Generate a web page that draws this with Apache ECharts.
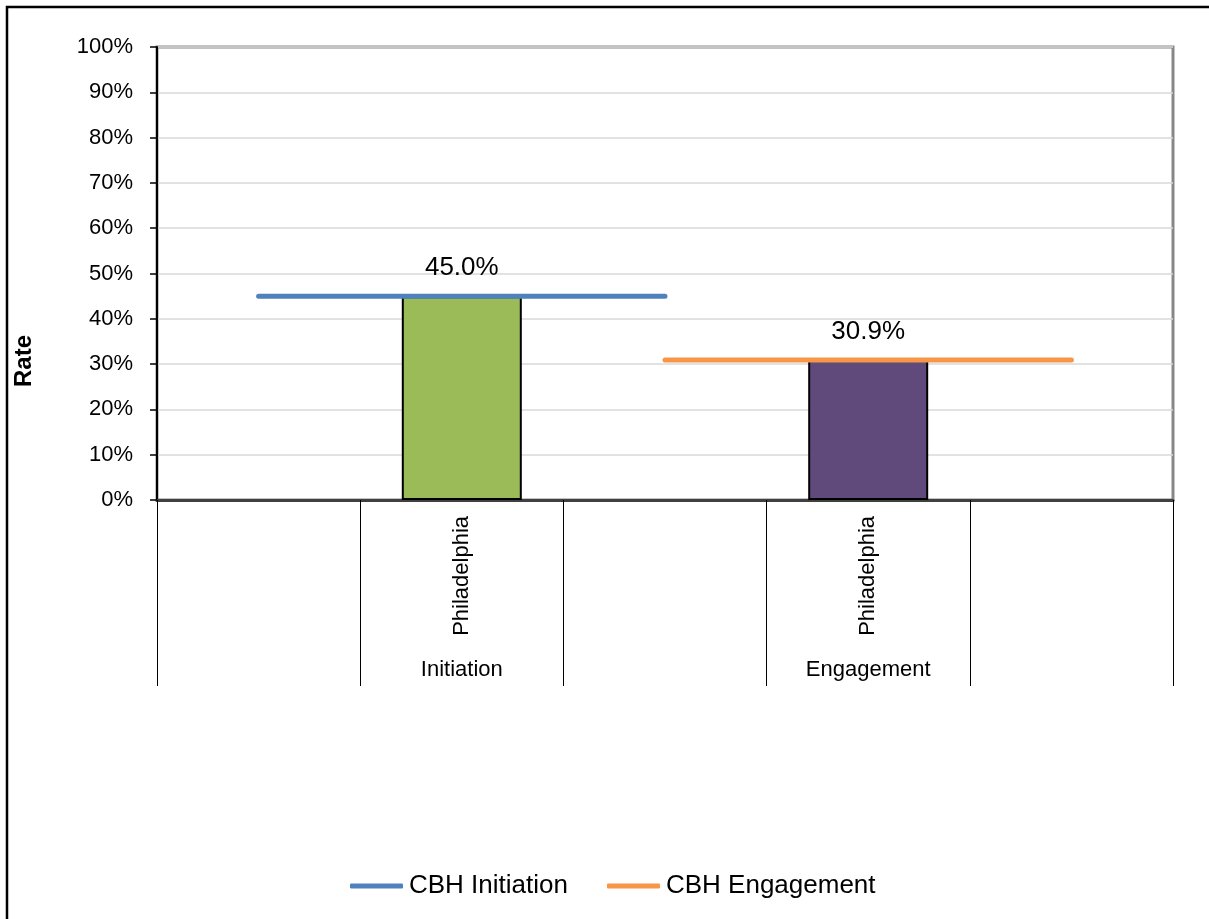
<!DOCTYPE html>
<html>
<head>
<meta charset="utf-8">
<title>CBH Initiation and Engagement Rates</title>
<script src="https://cdn.jsdelivr.net/npm/echarts@6/dist/echarts.min.js"></script>
<style>
  html, body { margin: 0; padding: 0; background: #fff; }
  #chart { width: 1209px; height: 919px; }
</style>
</head>
<body>
<div id="chart"></div>
<script>
// Category slots along the x axis (empty slots carry the CBH reference lines)
const categories = ['', 'Philadelphia', '', 'Philadelphia', ''];
const groupLabels = ['', 'Initiation', '', 'Engagement', ''];

// Philadelphia rates (percent) for the Initiation and Engagement measures
const philadelphiaRates = [null, 45.0, null, 30.9, null];
const barColors = [null, '#9BBB59', null, '#604A7B', null];

// CBH reference lines (percent)
const cbhInitiation = [45.0, 45.0, 45.0, null, null];
const cbhEngagement = [null, null, 30.9, 30.9, 30.9];

// Y axis ticks
const yMin = 0, yMax = 100, yStep = 10;

const font = "'Liberation Sans', Arial, sans-serif";

const chart = echarts.init(document.getElementById('chart'), null, { renderer: 'canvas' });

chart.setOption({
  animation: false,
  backgroundColor: '#ffffff',
  grid: {
    left: 157, right: 36, top: 47, bottom: 419,
    show: true, borderColor: '#878787', borderWidth: 3, backgroundColor: 'transparent'
  },
  legend: {
    top: 868,
    left: 345,
    itemWidth: 53,
    itemHeight: 5,
    itemGap: 39,
    icon: 'roundRect',
    textStyle: { fontFamily: font, fontSize: 26, color: '#000', padding: [0, 0, 0, 1] },
    data: ['CBH Initiation', 'CBH Engagement']
  },
  xAxis: [
    {
      type: 'category',
      data: categories,
      boundaryGap: true,
      axisLine: { show: true, lineStyle: { color: '#404040', width: 3 } },
      axisTick: { show: true, interval: 0, length: 186, lineStyle: { color: '#000', width: 1 } },
      axisLabel: {
        interval: 0, rotate: 90, margin: 16,
        fontFamily: font, fontSize: 22, color: '#000'
      },
      splitLine: { show: false }
    },
    {
      type: 'category',
      data: groupLabels,
      position: 'bottom',
      boundaryGap: true,
      axisLine: { show: false },
      axisTick: { show: false },
      axisLabel: {
        interval: 0, margin: 159,
        fontFamily: font, fontSize: 22, color: '#000'
      },
      splitLine: { show: false }
    }
  ],
  yAxis: {
    type: 'value',
    min: yMin, max: yMax, interval: yStep,
    axisLine: { show: true, lineStyle: { color: '#000', width: 2 } },
    axisTick: { show: true, length: 7, lineStyle: { color: '#000', width: 1.5 } },
    axisLabel: {
      formatter: '{value}%', margin: 24,
      fontFamily: font, fontSize: 22, color: '#000'
    },
    splitLine: { show: true, lineStyle: { color: '#d9d9d9', width: 1.5 } }
  },
  graphic: [
    {
      type: 'rect', silent: true, z: 100,
      shape: { x: 7, y: 7, width: 1400, height: 1100 },
      style: { fill: 'none', stroke: '#000', lineWidth: 2.5 }
    },
    {
      type: 'text', silent: true,
      x: 24, y: 361, rotation: Math.PI / 2,
      style: {
        text: 'Rate', fontFamily: font, fontWeight: 'bold', fontSize: 24,
        fill: '#000', align: 'center', verticalAlign: 'middle'
      }
    }
  ],
  series: [
    {
      name: 'Philadelphia',
      type: 'bar',
      xAxisIndex: 0,
      barWidth: 120,
      z: 2,
      data: philadelphiaRates.map((v, i) => v == null ? '-' : {
        value: v,
        itemStyle: { color: barColors[i], borderColor: '#000', borderWidth: 2 }
      }),
      label: {
        show: true, position: 'top', distance: 15,
        fontFamily: font, fontSize: 26, color: '#000',
        formatter: p => p.value.toFixed(1) + '%'
      }
    },
    {
      name: 'CBH Initiation',
      type: 'line',
      xAxisIndex: 0,
      z: 5,
      symbol: 'none',
      color: '#4F81BD',
      lineStyle: { color: '#4F81BD', width: 5, cap: 'round' },
      data: cbhInitiation.map(v => v == null ? '-' : v)
    },
    {
      name: 'CBH Engagement',
      type: 'line',
      xAxisIndex: 0,
      z: 5,
      symbol: 'none',
      color: '#F79646',
      lineStyle: { color: '#F79646', width: 5, cap: 'round' },
      data: cbhEngagement.map(v => v == null ? '-' : v)
    }
  ]
});
</script>
</body>
</html>
